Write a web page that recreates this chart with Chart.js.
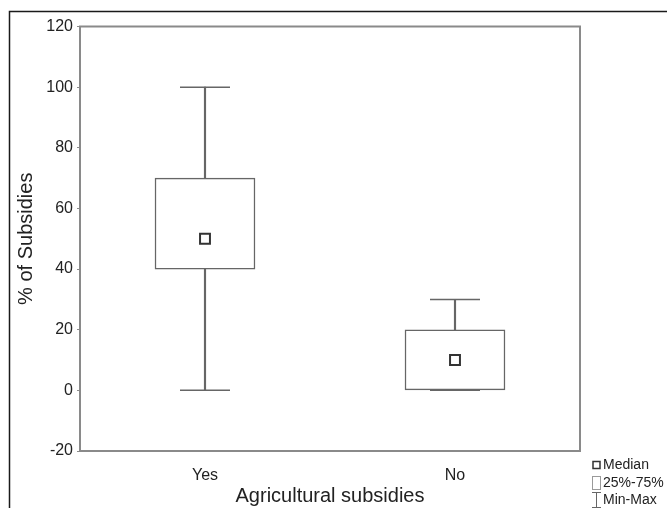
<!DOCTYPE html>
<html>
<head>
<meta charset="utf-8">
<script src="https://cdn.jsdelivr.net/npm/chart.js@4.4.1/dist/chart.umd.min.js"></script>
<style>
  html, body { margin: 0; padding: 0; background: #ffffff; }
  #wrap { width: 667px; height: 508px; position: relative; }
</style>
</head>
<body>
<div id="wrap"><canvas id="c" width="667" height="508"></canvas></div>
<script>
// ---- data ----
const categories = ['Yes', 'No'];
const minVals = [0, 0];
const q1Vals = [40, 0];
const medianVals = [50, 10];
const q3Vals = [70, 20];
const maxVals = [100, 30];
const yMin = -20;
const yMax = 120;
const yStep = 20;
const yTitle = '% of Subsidies';
const xTitle = 'Agricultural subsidies';
const legendLabels = ['Median', '25%-75%', 'Min-Max'];

const FONT = '"Liberation Sans", Arial, Helvetica, sans-serif';
const TEXT = '#222222';

const framePlugin = {
  id: 'framePlugin',
  beforeDraw(chart) {
    const ctx = chart.ctx;
    ctx.save();
    ctx.fillStyle = '#ffffff';
    ctx.fillRect(0, 0, chart.width, chart.height);
    ctx.strokeStyle = '#1a1a1a';
    ctx.lineWidth = 1.5;
    ctx.beginPath();
    ctx.moveTo(9.5, chart.height);
    ctx.lineTo(9.5, 11.5);
    ctx.lineTo(chart.width, 11.5);
    ctx.stroke();
    ctx.restore();
  },
  beforeDatasetsDraw(chart) {
    const {ctx, chartArea: a} = chart;
    ctx.save();
    ctx.strokeStyle = '#8a8a8a';
    ctx.lineWidth = 2;
    ctx.strokeRect(a.left, a.top, a.right - a.left, a.bottom - a.top);
    ctx.restore();
  },
  afterDraw(chart) {
    const ctx = chart.ctx;
    ctx.save();
    ctx.font = '14px ' + FONT;
    ctx.fillStyle = TEXT;
    ctx.textBaseline = 'middle';
    ctx.textAlign = 'left';
    const tx = 603;
    const rows = [465, 483, 500];
    ctx.strokeStyle = '#333333';
    ctx.lineWidth = 1.5;
    ctx.strokeRect(593, rows[0] - 3.5, 7, 7);
    ctx.fillText(legendLabels[0], tx, rows[0]);
    ctx.strokeStyle = '#9a9a9a';
    ctx.lineWidth = 1;
    ctx.strokeRect(592.5, rows[1] - 6.5, 8, 13);
    ctx.fillText(legendLabels[1], tx, rows[1]);
    ctx.strokeStyle = '#666666';
    ctx.lineWidth = 1;
    ctx.beginPath();
    ctx.moveTo(592, rows[2] - 7.5); ctx.lineTo(601, rows[2] - 7.5);
    ctx.moveTo(596.5, rows[2] - 7.5); ctx.lineTo(596.5, rows[2] + 7.5);
    ctx.moveTo(592, rows[2] + 7.5); ctx.lineTo(601, rows[2] + 7.5);
    ctx.stroke();
    ctx.fillText(legendLabels[2], tx, rows[2]);
    ctx.restore();
  }
};

const whiskerData = categories.map((c, i) => [minVals[i], maxVals[i]]);
const boxData = categories.map((c, i) => [q1Vals[i], q3Vals[i]]);

new Chart(document.getElementById('c'), {
  type: 'bar',
  data: {
    labels: categories,
    datasets: [
      {
        type: 'line', label: 'Median', data: medianVals, order: 0,
        showLine: false, pointStyle: 'rect', pointRadius: 7,
        pointBackgroundColor: '#ffffff', pointBorderColor: '#333333', pointBorderWidth: 2
      },
      {
        type: 'line', label: 'Max', data: maxVals, order: 1,
        showLine: false, pointStyle: 'line', pointRadius: 25,
        pointBorderColor: '#666666', pointBorderWidth: 1.5
      },
      {
        type: 'line', label: 'Min', data: minVals, order: 1,
        showLine: false, pointStyle: 'line', pointRadius: 25,
        pointBorderColor: '#666666', pointBorderWidth: 1.5
      },
      {
        type: 'bar', label: '25%-75%', data: boxData, order: 2, grouped: false,
        backgroundColor: '#ffffff', borderColor: '#666666', borderWidth: 1.5,
        borderSkipped: false, barThickness: 100
      },
      {
        type: 'bar', label: 'Min-Max', data: whiskerData, order: 3, grouped: false,
        backgroundColor: '#666666', borderWidth: 0, barThickness: 1.5
      }
    ]
  },
  options: {
    responsive: false,
    animation: false,
    events: [],
    layout: { padding: { left: 0, top: 26, right: 87, bottom: 0 } },
    plugins: { legend: { display: false }, tooltip: { enabled: false } },
    scales: {
      x: {
        offset: true,
        grid: { display: false },
        border: { display: false },
        ticks: { color: TEXT, font: { family: FONT, size: 16 }, padding: 7 },
        title: { display: true, text: xTitle, color: TEXT, font: { family: FONT, size: 20 }, padding: { top: 0, bottom: 0 } },
        afterFit(s) { s.height = 57; }
      },
      y: {
        min: yMin, max: yMax,
        grid: { display: true, drawOnChartArea: false, drawTicks: true, tickLength: 3, color: '#8a8a8a' },
        border: { display: false },
        ticks: { stepSize: yStep, color: TEXT, font: { family: FONT, size: 16 }, padding: 4 },
        title: { display: true, text: yTitle, color: TEXT, font: { family: FONT, size: 20 }, padding: { top: 14, bottom: 0 } },
        afterFit(s) { s.width = 80; }
      }
    }
  },
  plugins: [framePlugin]
});
</script>
</body>
</html>
